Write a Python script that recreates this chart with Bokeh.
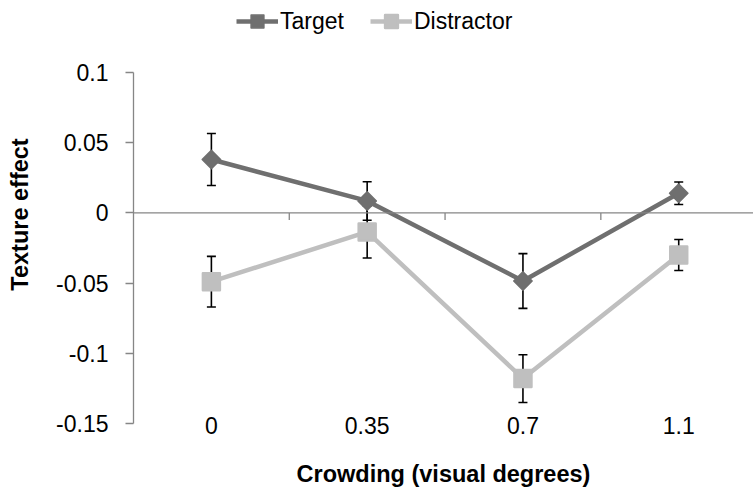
import numpy as np
from bokeh.plotting import figure
from bokeh.models import (Range1d, FixedTicker, Span, Whisker, ColumnDataSource,
                          Legend, LegendItem, TeeHead)
from bokeh.embed import file_html
from bokeh.resources import INLINE

# ---- data ----
categories = ["0", "0.35", "0.7", "1.1"]
target = [0.038, 0.0085, -0.0485, 0.014]
target_err = [0.0185, 0.0137, 0.0195, 0.008]
distractor = [-0.049, -0.0136, -0.118, -0.030]
distractor_err = [0.018, 0.0185, 0.017, 0.011]
y_ticks = [-0.15, -0.1, -0.05, 0.0, 0.05, 0.1]
y_tick_labels = ["-0.15", "-0.1", "-0.05", "0", "0.05", "0.1"]

FONT = "Liberation Sans"
TARGET_C = "#6F6F6F"
DISTR_C = "#BFBFBF"
AXIS_C = "#868686"

xs = [i + 0.5 for i in range(len(categories))]

p = figure(width=753, height=491, output_backend="svg", toolbar_location=None,
           x_range=Range1d(0, 3.98), y_range=Range1d(-0.15, 0.1477),
           min_border_left=133, min_border_right=0, min_border_top=5,
           min_border_bottom=68)
p.xgrid.visible = False
p.ygrid.visible = False
p.outline_line_color = None
p.background_fill_color = "white"
p.border_fill_color = "white"

# x axis: labels only (low position)
xa = p.xaxis[0]
xa.ticker = FixedTicker(ticks=xs)
xa.major_label_overrides = {x: c for x, c in zip(xs, categories)}
xa.axis_line_color = None
xa.major_tick_line_color = None
xa.minor_tick_line_color = None
xa.major_tick_out = 0
xa.major_tick_in = 0
xa.major_label_standoff = -7
xa.major_label_text_font = FONT
xa.major_label_text_font_size = "23px"
xa.major_label_text_color = "black"
xa.axis_label = "Crowding (visual degrees)"
xa.axis_label_text_font = FONT
xa.axis_label_text_font_size = "23.5px"
xa.axis_label_text_font_style = "bold"
xa.axis_label_text_color = "black"
xa.axis_label_standoff = 24

# y axis
ya = p.yaxis[0]
ya.ticker = FixedTicker(ticks=y_ticks)
ya.major_label_overrides = {t: l for t, l in zip(y_ticks, y_tick_labels)}
ya.bounds = (y_ticks[0], y_ticks[-1])
ya.axis_line_color = AXIS_C
ya.axis_line_width = 1.3
ya.major_tick_line_color = AXIS_C
ya.major_tick_line_width = 1.3
ya.major_tick_out = 8
ya.major_tick_in = 0
ya.minor_tick_line_color = None
ya.major_label_standoff = 17
ya.major_label_text_font = FONT
ya.major_label_text_font_size = "23px"
ya.major_label_text_color = "black"
ya.axis_label = "Texture effect"
ya.axis_label_text_font = FONT
ya.axis_label_text_font_size = "23.5px"
ya.axis_label_text_font_style = "bold"
ya.axis_label_text_color = "black"
ya.axis_label_standoff = 20

# zero line with category-boundary ticks
p.add_layout(Span(location=0, dimension="width", line_color=AXIS_C, line_width=1.3))
bounds_x = [float(i) for i in range(1, len(categories))]
p.segment(x0=bounds_x, y0=[0.0] * len(bounds_x), x1=bounds_x, y1=[-0.005] * len(bounds_x),
          line_color=AXIS_C, line_width=1.3)

# error bars
for vals, errs in ((target, target_err), (distractor, distractor_err)):
    src = ColumnDataSource(dict(x=xs,
                                upper=[v + e for v, e in zip(vals, errs)],
                                lower=[v - e for v, e in zip(vals, errs)]))
    w = Whisker(base="x", upper="upper", lower="lower", source=src,
                line_color="black", line_width=1.6,
                upper_head=TeeHead(size=9, line_color="black", line_width=1.6),
                lower_head=TeeHead(size=9, line_color="black", line_width=1.6))
    p.add_layout(w)

dl = p.line(xs, distractor, line_color=DISTR_C, line_width=4.5, line_join="round")
ds = p.scatter(xs, distractor, marker="square", size=17, fill_color=DISTR_C,
               line_color=DISTR_C, line_width=2.5, line_join="round")
tl = p.line(xs, target, line_color=TARGET_C, line_width=4.5, line_join="round")
ts = p.scatter(xs, target, marker="square", angle=np.pi / 4, size=13, fill_color=TARGET_C,
               line_color=TARGET_C, line_width=1.5, line_join="round")

legend = Legend(items=[LegendItem(label="Target", renderers=[tl, ts]),
                       LegendItem(label="Distractor", renderers=[dl, ds])],
                orientation="horizontal", location=(103, 386),
                glyph_width=42, glyph_height=32, label_standoff=2, spacing=26,
                padding=0, margin=0, border_line_color=None,
                background_fill_alpha=0, label_text_font=FONT,
                label_text_font_size="23px", label_text_color="black")
p.add_layout(legend)

open("out.html", "w").write(file_html(p, INLINE))
